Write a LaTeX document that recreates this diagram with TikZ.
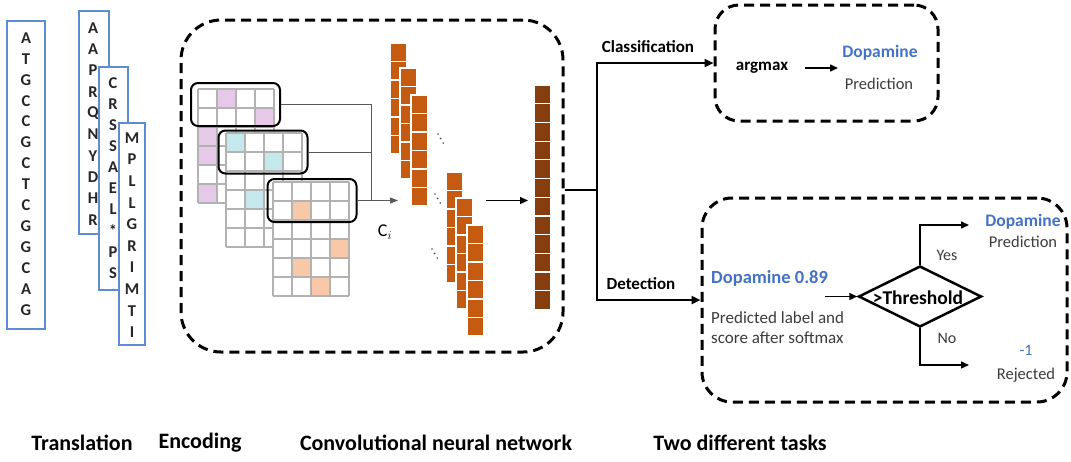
\documentclass[tikz,border=0pt]{standalone}
\usepackage{fontspec}
\setmainfont{Carlito}
\usetikzlibrary{shapes.geometric,arrows.meta}
\definecolor{seqblue}{RGB}{91,140,212}
\definecolor{dopblue}{RGB}{68,114,196}
\definecolor{gridgray}{RGB}{178,178,178}
\definecolor{kpurple}{RGB}{230,200,232}
\definecolor{kcyan}{RGB}{196,232,236}
\definecolor{korange}{RGB}{248,200,168}
\definecolor{fmorange}{RGB}{197,90,17}
\definecolor{fmbrown}{RGB}{135,62,14}
\definecolor{txtgray}{RGB}{60,60,60}
\newcommand{\fsz}[1]{\fontsize{#1}{#1}\selectfont}
\newcommand{\kgrid}[4]{%
  \fill[white] (#1,#2) rectangle ++(76,114);
  \foreach \cc/\rr in {#4} \fill[#3] ({#1+(\cc-1)*19},{#2+(\rr-1)*19}) rectangle ++(19,19);
  \foreach \k in {0,...,4} \draw[gridline] ({#1+\k*19},#2) -- ++(0,114);
  \foreach \k in {0,...,6} \draw[gridline] (#1,{#2+\k*19}) -- ++(76,0);
}
\newcommand{\fmcol}[4]{%
  \foreach \k in {1,...,#3} \filldraw[fill=#4,draw=white,line width=1.2pt] (#1,{#2+(\k-1)*18.5}) rectangle ++(17,18.5);
}
\begin{document}
\begin{tikzpicture}[x=1pt,y=-1pt,
  seqbox/.style={draw=seqblue,line width=2.8pt,fill=white,inner sep=0pt},
  seqletter/.style={font=\fsz{16.5}\bfseries,text=black!85,inner sep=0pt},
  gridline/.style={draw=gridgray,line width=1.2pt},
  kernel/.style={draw=black,line width=2pt,rounded corners=7pt,inner sep=0pt,minimum width=89pt,minimum height=43pt},
  conn/.style={draw=black!65,line width=1pt},
  dashbox/.style={draw=black,line width=3pt,dash pattern=on 10pt off 6pt,inner sep=0pt},
  flowline/.style={draw=black,line width=2.5pt},
  tip/.style={-{Triangle[length=9pt,width=8pt]}},
  thinarrow/.style={draw=black,line width=1.5pt,-{Triangle[length=8pt,width=7pt]}},
  boldlbl/.style={font=\fsz{17}\bfseries,inner sep=0pt},
  reglbl/.style={font=\fsz{16.5},text=txtgray,inner sep=0pt},
  bluelbl/.style={font=\fsz{17.5}\bfseries,text=dopblue,inner sep=0pt},
  bottomlbl/.style={font=\fsz{22}\bfseries,inner sep=0pt}
]
\useasboundingbox (0,0) rectangle (1071,461);
\fill[white] (0,0) rectangle (1071,461);

% ---------- Translation ----------
\node[seqbox,minimum width=38pt,minimum height=308pt] (s1) at (26,175) {};
\foreach \l [count=\i from 0] in {A,T,G,C,C,G,C,T,C,G,G,C,A,G}
  \node[seqletter] (sa\i) at (26,{38+20.9*\i}) {\l};
\node[seqbox,minimum width=30pt,minimum height=223pt] (s2) at (94,122.5) {};
\foreach \l [count=\i from 0] in {A,A,P,R,Q,N,Y,D,H,R}
  \node[seqletter] (sb\i) at (93,{28+21.3*\i}) {\l};
\node[seqbox,minimum width=29pt,minimum height=223pt] (s3) at (113.5,178.5) {};
\foreach \l [count=\i from 0] in {C,R,S,S,A,E,L,*,P,S}
  \node[seqletter] (sc\i) at (113,{83+21.1*\i}) {\l};
\node[seqbox,minimum width=26pt,minimum height=222pt] (s4) at (132,234) {};
\foreach \l [count=\i from 0] in {M,P,L,L,G,R,I,M,T,I}
  \node[seqletter] (sd\i) at (132,{138+21.6*\i}) {\l};

% ---------- CNN dashed box ----------
\node[dashbox,rounded corners=40pt,minimum width=382pt,minimum height=332pt] (cnn) at (372,186) {};

% ---------- Encoding grids ----------
\kgrid{198}{89}{kpurple}{2/1,4/2,1/3,1/4,1/6}
\kgrid{226}{133}{kcyan}{1/1,3/2,2/4}
\kgrid{273}{182}{korange}{2/2,4/4,2/5,3/6}
\node[kernel] (k1) at (235.5,104.5) {};
\node[kernel] (k2) at (263,152) {};
\node[kernel] (k3) at (312,200.5) {};
\coordinate (j) at (371,200.5);
\coordinate (fa) at (398,200.5);
\draw[conn] (k1.east) -- (k1.east -| j) -- (j);
\draw[conn] (k2.east) -- (k2.east -| j);
\draw[conn,-{Triangle[length=8pt,width=6pt]}] (k3.east) -- (fa);
\node[font=\fsz{18},inner sep=0pt] (ci) at (385,232) {C$_{i}$};

% ---------- feature maps ----------
\fmcol{390}{43}{6}{fmorange}
\fmcol{400}{68}{6}{fmorange}
\fmcol{411}{95}{6}{fmorange}
\fmcol{446}{172}{6}{fmorange}
\fmcol{456}{198}{6}{fmorange}
\fmcol{467}{225}{6}{fmorange}
\foreach \px/\py in {438/134,435/194,432/249}
  \foreach \t in {0,1,2} \fill[black!70] ({\px+2.6*\t},{\py+4.5*\t}) circle (0.9);
\foreach \k in {1,...,12}
  \filldraw[fill=fmbrown,draw=white,line width=1.2pt] (534,{85+(\k-1)*18.7}) rectangle ++(17,18.7);
\coordinate (fb1) at (486,200.5);
\coordinate (fb2) at (528,200.5);
\draw[thinarrow,line width=1.2pt] (fb1) -- (fb2);

% ---------- Two tasks ----------
\coordinate (out) at (565,190);
\coordinate (sp) at (597,190);
\node[dashbox,rounded corners=24pt,minimum width=223pt,minimum height=116pt] (cls) at (826.5,63) {};
\node[dashbox,rounded corners=30pt,minimum width=365pt,minimum height=204pt] (det) at (884.5,300) {};
\draw[flowline] (out) -- (sp);
\draw[flowline,tip] (sp) |- (cls.west);
\draw[flowline,tip] (sp) |- (det.west);
\node[boldlbl] (lcls) at (648,47) {Classification};
\node[boldlbl] (ldet) at (641,284) {Detection};

% classification content
\node[boldlbl] (argmax) at (762,68) {argmax};
\node[bluelbl] (dop1) at (880,53) {Dopamine};
\node[reglbl] (pred1) at (879,84) {Prediction};
\coordinate (am1) at (805,68);
\coordinate (am2) at (838,68);
\draw[thinarrow] (am1) -- (am2);

% detection content
\node[font=\fsz{18.5}\bfseries,text=dopblue,inner sep=0pt,anchor=west] (dop089) at (711,278) {Dopamine 0.89};
\node[font=\fontsize{17}{20}\selectfont,text=txtgray,inner sep=0pt,anchor=west,align=left] (plab) at (711,327.5) {Predicted label and\\score after softmax};
\node[diamond,draw=black,line width=2.5pt,minimum width=123pt,minimum height=61pt,inner sep=0pt] (dia) at (920,296.5) {};
\node[font=\fsz{19.5}\bfseries,inner sep=0pt] (thr) at (918,298) {>Threshold};
\coordinate (inarr) at (825,296.5);
\draw[thinarrow] (inarr) -- (dia.west);
\coordinate (yesend) at (969,225);
\coordinate (noend) at (969,365);
\draw[thinarrow] (dia.north) |- (yesend);
\draw[thinarrow] (dia.south) |- (noend);
\node[reglbl,font=\fsz{16}] (yes) at (947,255) {Yes};
\node[reglbl,font=\fsz{16}] (no) at (947,338) {No};
\node[bluelbl] (dop2) at (1023,222) {Dopamine};
\node[reglbl] (pred2) at (1023,242) {Prediction};
\node[font=\fsz{16},text=dopblue,inner sep=0pt] (m1) at (1026,350) {-1};
\node[reglbl] (rej) at (1026,375) {Rejected};

% ---------- bottom labels ----------
\node[bottomlbl] (t1) at (82,443) {Translation};
\node[bottomlbl] (t2) at (200,443) {Encoding};
\node[bottomlbl] (t3) at (436,443) {Convolutional neural network};
\node[bottomlbl] (t4) at (740,443) {Two different tasks};
\end{tikzpicture}
\end{document}
